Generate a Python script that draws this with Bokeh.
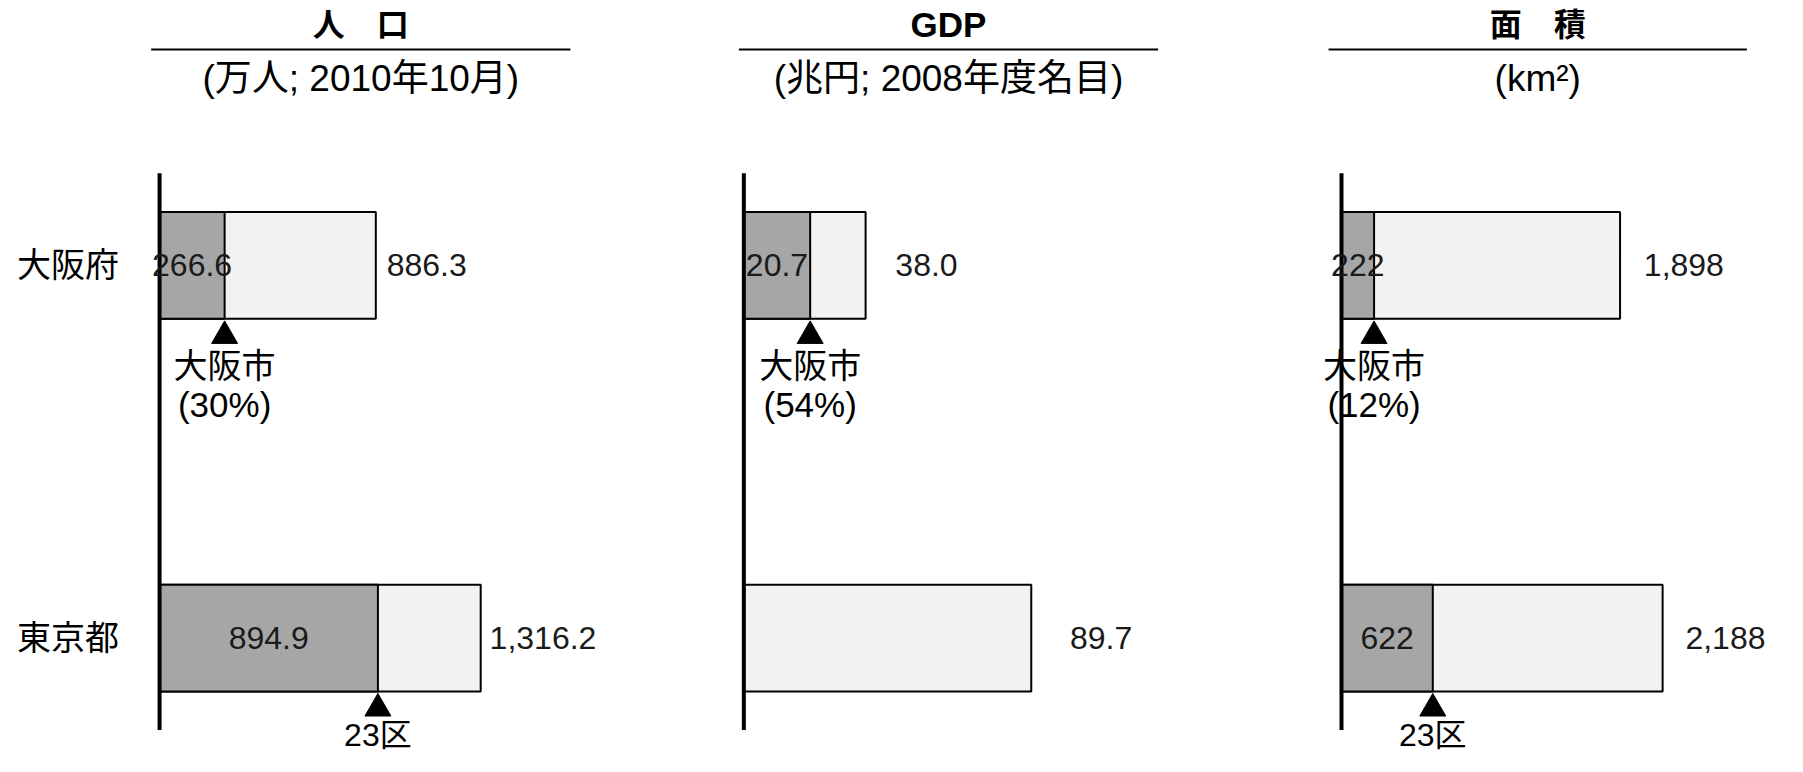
from bokeh.plotting import figure
from bokeh.models import Range1d, ColumnDataSource, Label, BoxAnnotation
from bokeh.transform import dodge
from bokeh.core.properties import value
from bokeh.embed import file_html
from bokeh.resources import INLINE

# ---------------- data ----------------
categories = ["大阪府", "東京都"]
city_names = ["大阪市", "23区"]
show_share = [True, False]

titles = ["人　口", "GDP", "面　積"]
subtitles = ["(万人; 2010年10月)", "(兆円; 2008年度名目)", "(km²)"]

pop_total = [886.3, 1316.2]
pop_city = [266.6, 894.9]
gdp_total = [38.0, 89.7]
gdp_city = [20.7, None]
area_total = [1898, 2188]
area_city = [222, 622]

value_formats = ["{:,.1f}", "{:.1f}", "{:,.0f}"]

# ---------------- layout (designed on a 1803x772 canvas, scaled to the figure) ----------------
W, H = 1787, 756
SX, SY = W / 1803, H / 772
FONT = "Liberation Sans, Noto Sans CJK JP"

cat_pos = [1, 0]                          # Osaka on top, Tokyo below
row_px = [270.5, 651]                     # centre line of each row
axis_px = [160.5, 750, 1353]              # zero line of each panel
full_px = [324, 290, 324]                 # length of the longest bar in each panel
underline_px = [(152, 575), (745, 1168), (1340, 1762)]
title_sizes = ["32px", "35px", "32px"]
label_dx = [[11, 9], [30, 39], [24, 23]]
bar_px = 109
axis_ext_px = 94
tri_px = 72
name1_px = [103, 99]                      # per row (Osaka, Tokyo)
name1_size = ["34px", "32px"]
name2_px = 142
title_y, underline_y, subtitle_y = 25, 50, 80

unit = (row_px[1] - row_px[0]) * SY       # screen px per category step
y_start = -(H - row_px[1] * SY) / unit
y_end = y_start + H / unit
bar_h = bar_px * SY / unit
axis_ext = axis_ext_px * SY / unit
tri_dodge = -tri_px * SY / unit

p = figure(width=W, height=H, output_backend="svg", toolbar_location=None,
           x_axis_location=None, y_axis_location=None, min_border=0,
           y_range=Range1d(y_start, y_end))
p.grid.visible = False
p.outline_line_color = None
p.background_fill_color = "white"
p.border_fill_color = "white"

panels = [(pop_total, pop_city), (gdp_total, gdp_city), (area_total, area_city)]

def rng(i):
    a = axis_px[i] * SX
    k = full_px[i] * SX / max(panels[i][0])
    return Range1d(-a / k, (W - a) / k)

p.x_range = rng(0)
p.extra_x_ranges = {"gdp": rng(1), "area": rng(2)}
range_names = ["default", "gdp", "area"]

for i, (totals, cities) in enumerate(panels):
    rn = range_names[i]
    fmt = value_formats[i]
    src = ColumnDataSource(dict(
        y=cat_pos, total=totals,
        label=[fmt.format(v) for v in totals],
        dx=[d * SX for d in label_dx[i]],
    ))
    p.hbar(y="y", left=0, right="total", height=bar_h, source=src,
           fill_color="#f2f2f2", line_color="black", line_width=2, x_range_name=rn)

    ys, cs, clabels, n1, n2, off1, sz1 = [], [], [], [], [], [], []
    for j, c in enumerate(cities):
        if c is None:
            continue
        ys.append(cat_pos[j]); cs.append(c)
        clabels.append(fmt.format(c))
        n1.append(city_names[j])
        n2.append("({}%)".format(round(100 * c / totals[j])) if show_share[j] else "")
        off1.append(name1_px[j] * SY)
        sz1.append(name1_size[j])
    csrc = ColumnDataSource(dict(y=ys, city=cs, half=[c / 2 for c in cs],
                                 label=clabels, name1=n1, name2=n2, off1=off1, sz1=sz1))
    p.hbar(y="y", left=0, right="city", height=bar_h, source=csrc,
           fill_color="#a6a6a6", line_color="black", line_width=2, x_range_name=rn)

    # zero line
    p.segment(x0=[0], y0=[min(cat_pos) - axis_ext], x1=[0], y1=[max(cat_pos) + axis_ext],
              line_color="black", line_width=4, x_range_name=rn)

    # pointer triangles
    p.scatter(x="city", y=dodge("y", tri_dodge), source=csrc, marker="triangle",
              size=26, fill_color="black", line_color="black", x_range_name=rn)

    # value labels
    p.text(x="total", y="y", text="label", source=src, x_offset="dx",
           text_font=value(FONT), text_font_size=value("32px"), text_color="#1a1a1a",
           text_align="left", text_baseline="middle", x_range_name=rn)
    p.text(x="half", y="y", text="label", source=csrc,
           text_font=value(FONT), text_font_size=value("32px"), text_color="#1a1a1a",
           text_align="center", text_baseline="middle", x_range_name=rn)
    # pointer names
    p.text(x="city", y="y", text="name1", source=csrc, y_offset="off1",
           text_font=value(FONT), text_font_size="sz1", text_color="black",
           text_align="center", text_baseline="middle", x_range_name=rn)
    p.text(x="city", y="y", text="name2", source=csrc, y_offset=name2_px * SY,
           text_font=value(FONT), text_font_size=value("35px"), text_color="black",
           text_align="center", text_baseline="middle", x_range_name=rn)

    # titles
    l, r = underline_px[i]
    cx = (l + r) / 2 * SX
    p.add_layout(Label(x=cx, y=H - title_y * SY, x_units="screen", y_units="screen",
                       text=titles[i], text_font=FONT, text_font_size=title_sizes[i],
                       text_font_style="bold", text_align="center",
                       text_baseline="middle", text_color="black"))
    p.add_layout(BoxAnnotation(left=l * SX, right=r * SX,
                               bottom=H - underline_y * SY - 1, top=H - underline_y * SY + 1,
                               left_units="screen", right_units="screen",
                               bottom_units="screen", top_units="screen",
                               fill_color="black", fill_alpha=1.0, line_color=None))
    p.add_layout(Label(x=cx, y=H - subtitle_y * SY, x_units="screen", y_units="screen",
                       text=subtitles[i], text_font=FONT, text_font_size="37px",
                       text_align="center", text_baseline="middle", text_color="black"))

# category labels (left of first panel)
p.text(x=[0, 0], y=cat_pos, text=categories, x_offset=-41 * SX,
       text_font=value(FONT), text_font_size=value("34px"), text_color="black",
       text_align="right", text_baseline="middle")

open("out.html", "w", encoding="utf-8").write(file_html(p, INLINE))
